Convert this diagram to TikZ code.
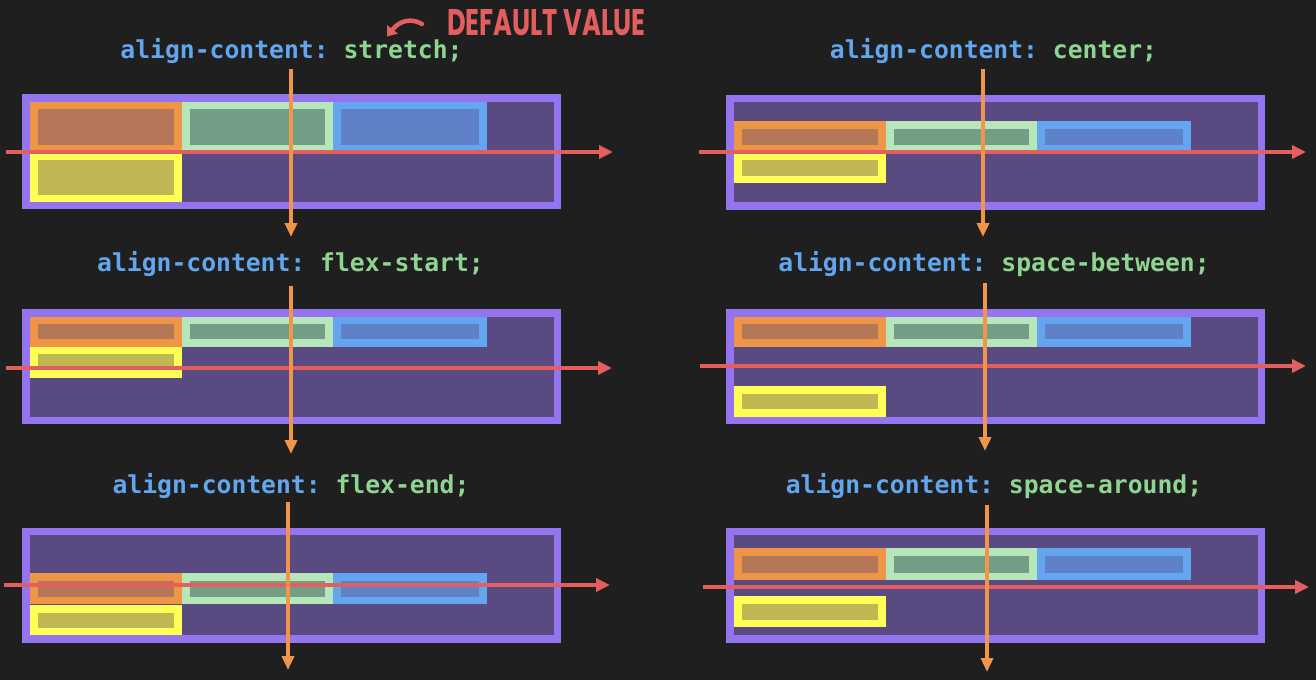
\documentclass[tikz,border=0pt]{standalone}
\usepackage{fontspec}
\usepackage{graphicx}
\usetikzlibrary{arrows.meta}
\newfontfamily\codefont{DejaVu Sans Mono}
\newfontfamily\handfont{Poppins}
\definecolor{bg}{HTML}{1F1F1F}
\definecolor{contB}{HTML}{9575EF}
\definecolor{contI}{HTML}{5A4A82}
\definecolor{orB}{HTML}{EF9548}
\definecolor{orI}{HTML}{B47858}
\definecolor{grB}{HTML}{B7E6BA}
\definecolor{grI}{HTML}{739E86}
\definecolor{blB}{HTML}{64A5F0}
\definecolor{blI}{HTML}{5F81C7}
\definecolor{yeB}{HTML}{FFFF55}
\definecolor{yeI}{HTML}{BFB852}
\definecolor{arrred}{HTML}{E35F5F}
\definecolor{arrorange}{HTML}{F0954A}
\definecolor{cblue}{HTML}{62A6EF}
\definecolor{cgreen}{HTML}{8ED592}
\newcommand\accont[2]{%
  \fill[contB] (#1,#2) rectangle ++(539,115);
  \fill[contI] (#1+7.5,#2+7.5) rectangle ++(524,100);
}
\newcommand\acitem[5]{%
  \fill[#5B] (#1,#2) rectangle ++(#3,#4);
  \fill[#5I] (#1+8,#2+7.5) rectangle ++(#3-16,#4-15);
}
\newcommand\acrow[3]{% x y h : orange green blue
  \acitem{#1}{#2}{152}{#3}{or}
  \acitem{#1+152}{#2}{151}{#3}{gr}
  \acitem{#1+303}{#2}{154}{#3}{bl}
}
\tikzset{
  code/.style={font=\codefont\bfseries\fontsize{24.7}{26}\selectfont\frenchspacing, anchor=base, inner sep=0pt},
  redarrow/.style={draw=arrred, line width=4pt, -{Triangle[length=14pt,width=13pt]}},
  orangearrow/.style={draw=arrorange, line width=3.5pt, -{Triangle[length=14pt,width=12pt]}},
}
\begin{document}
\begin{tikzpicture}[x=1pt,y=-1pt]
\fill[bg] (0,0) rectangle (1316,680);
\useasboundingbox (0,0) rectangle (1316,680);

% ---------- top left: stretch
\accont{22}{94}
\acrow{30}{101.5}{50.5}
\acitem{30}{152}{152}{50}{ye}
% ---------- top right: center
\accont{726}{94.5}
\acrow{733.5}{121}{31}
\acitem{733.5}{152}{152}{31}{ye}
% ---------- middle left: flex-start
\accont{22}{309}
\acrow{30}{316.5}{30}
\acitem{30}{346.5}{152}{31}{ye}
% ---------- middle right: space-between
\accont{726}{309}
\acrow{733.5}{316.5}{30}
\acitem{733.5}{386}{152}{30.5}{ye}
% ---------- bottom left: flex-end
\accont{22}{527.5}
\acrow{30}{573}{31}
\acitem{30}{605}{152}{30}{ye}
% ---------- bottom right: space-around
\accont{726}{527.5}
\acrow{733.5}{548}{32}
\acitem{733.5}{596}{152}{31}{ye}

% ---------- labels
\node[code] (lTL) at (291.5,58) {\color{cblue}align-content: \color{cgreen}stretch;};
\node[code] (lTR) at (993.5,58) {\color{cblue}align-content: \color{cgreen}center;};
\node[code] (lML) at (290.5,271) {\color{cblue}align-content: \color{cgreen}flex-start;};
\node[code] (lMR) at (994,271) {\color{cblue}align-content: \color{cgreen}space-between;};
\node[code] (lBL) at (291,493) {\color{cblue}align-content: \color{cgreen}flex-end;};
\node[code] (lBR) at (994,493) {\color{cblue}align-content: \color{cgreen}space-around;};

% default value annotation
\node[anchor=south west, inner sep=0pt, text=arrred] (dv) at (447,36)
  {\resizebox{198pt}{26pt}{\handfont\bfseries DEFAULT VALUE}};
\coordinate (dvA) at (422,24);
\coordinate (dvB) at (387,36.5);
\draw[arrred, line width=4.5pt, line cap=round, -{Triangle[length=9pt,width=13pt]}]
  (dvA) .. controls (412,18) and (400,20) .. (dvB);

% ---------- main axes (red)
\coordinate (rTL1) at (6,152);   \coordinate (rTL2) at (613,152);
\coordinate (rTR1) at (699,152); \coordinate (rTR2) at (1306,152);
\coordinate (rML1) at (6,368);   \coordinate (rML2) at (612,368);
\coordinate (rMR1) at (700,366); \coordinate (rMR2) at (1306,366);
\coordinate (rBL1) at (4,585);   \coordinate (rBL2) at (610,585);
\coordinate (rBR1) at (703,587); \coordinate (rBR2) at (1309,587);
\draw[redarrow] (rTL1) -- (rTL2);
\draw[redarrow] (rTR1) -- (rTR2);
\draw[redarrow] (rML1) -- (rML2);
\draw[redarrow] (rMR1) -- (rMR2);
\draw[redarrow] (rBL1) -- (rBL2);
\draw[redarrow] (rBR1) -- (rBR2);

% ---------- cross axes (orange)
\coordinate (oTL1) at (291,69);  \coordinate (oTL2) at (291,237);
\coordinate (oTR1) at (983,69);  \coordinate (oTR2) at (983,237);
\coordinate (oML1) at (291,286); \coordinate (oML2) at (291,454);
\coordinate (oMR1) at (985,283); \coordinate (oMR2) at (985,451);
\coordinate (oBL1) at (288,502); \coordinate (oBL2) at (288,670);
\coordinate (oBR1) at (987,505); \coordinate (oBR2) at (987,672);
\draw[orangearrow] (oTL1) -- (oTL2);
\draw[orangearrow] (oTR1) -- (oTR2);
\draw[orangearrow] (oML1) -- (oML2);
\draw[orangearrow] (oMR1) -- (oMR2);
\draw[orangearrow] (oBL1) -- (oBL2);
\draw[orangearrow] (oBR1) -- (oBR2);
\end{tikzpicture}
\end{document}
